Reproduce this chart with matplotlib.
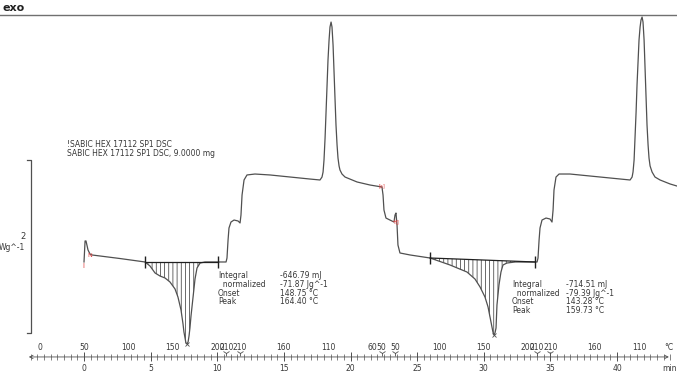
import numpy as np
import matplotlib.pyplot as plt

# DSC curve (time in min, heat flow in W/g, exo up, arbitrary offset)
t_curve = [0.00, 0.08, 0.15, 0.30, 0.45, 0.60, 1.20, 2.70, 4.58,
           4.95, 5.33, 5.70, 6.08, 6.45, 6.83, 7.05, 7.28, 7.43, 7.50, 7.58, 7.65, 7.73,
           7.81, 7.88, 7.95, 8.03, 8.18, 8.33, 8.48, 8.71, 9.08, 10.66,
           10.73, 10.81, 10.88, 11.03, 11.26, 11.56, 11.71,
           11.78, 11.86, 12.01, 12.23, 12.83, 13.96, 15.46, 16.96, 17.71,
           17.86, 17.94, 18.01, 18.09, 18.16, 18.24, 18.31, 18.39, 18.46, 18.54,
           18.61, 18.69, 18.76, 18.84, 18.91, 18.99, 19.06, 19.14, 19.21, 19.36,
           19.59, 20.49, 21.46, 22.36,
           22.44, 22.51, 22.66, 22.96, 23.26, 23.34, 23.41, 23.49, 23.56, 23.71,
           24.47, 25.97, 27.47, 28.74, 29.34, 29.72, 30.09, 30.32, 30.54, 30.69, 30.77,
           30.84, 30.92, 30.99, 31.14, 31.29, 31.44, 31.74, 32.35, 34.00,
           34.07, 34.15, 34.22, 34.37, 34.67, 34.97, 35.12,
           35.20, 35.27, 35.42, 35.65, 36.47, 38.72, 40.98,
           41.13, 41.20, 41.28, 41.35, 41.43, 41.50, 41.58, 41.65, 41.73, 41.80,
           41.88, 41.95, 42.03, 42.10, 42.18, 42.25, 42.33, 42.40, 42.48, 42.63,
           42.85, 43.23, 43.98, 44.50]
hf_curve = [0.821, 1.064, 1.064, 0.960, 0.913, 0.902, 0.890, 0.861, 0.821,
            0.775, 0.694, 0.659, 0.636, 0.590, 0.509, 0.416, 0.266, 0.104, 0.012, -0.058,
            -0.116, -0.127,
            -0.104, -0.035, 0.058, 0.197, 0.416, 0.624, 0.751, 0.809, 0.821, 0.821,
            0.867, 1.075, 1.214, 1.283, 1.306, 1.295, 1.272,
            1.364, 1.595, 1.769, 1.827, 1.838, 1.827, 1.803, 1.780, 1.769,
            1.803, 1.861, 2.000, 2.254, 2.555, 2.867, 3.156, 3.387, 3.538, 3.595,
            3.538, 3.329, 3.017, 2.694, 2.405, 2.173, 2.023, 1.931, 1.884, 1.838,
            1.803, 1.746, 1.711, 1.688,
            1.595, 1.422, 1.329, 1.306, 1.283, 1.364, 1.387, 1.249, 1.017, 0.925,
            0.902, 0.867, 0.786, 0.705, 0.624, 0.532, 0.416, 0.301, 0.127, 0.010, -0.023,
            0.000, 0.058, 0.324, 0.555, 0.705, 0.786, 0.809, 0.821, 0.821,
            0.867, 1.075, 1.214, 1.306, 1.329, 1.318, 1.283,
            1.422, 1.653, 1.803, 1.838, 1.838, 1.803, 1.769,
            1.803, 1.861, 2.000, 2.254, 2.555, 2.867, 3.156, 3.387, 3.538, 3.619,
            3.653, 3.595, 3.387, 3.064, 2.717, 2.405, 2.173, 2.023, 1.931, 1.861,
            1.803, 1.769, 1.723, 1.699]

# integration limits (min) and baseline values (W/g)
int_t = [(4.58, 10.06), (25.97, 33.85)]
int_hf = [(0.821, 0.821), (0.867, 0.821)]
peak_t = [7.73, 30.77]
peak_hf = [-0.127, -0.023]

results = [["-646.79 mJ", "-71.87 Jg^-1", "148.75 °C", "164.40 °C"],
           ["-714.51 mJ", "-79.39 Jg^-1", "143.28 °C", "159.73 °C"]]
res_names = ["Integral", "  normalized", "Onset", "Peak"]

# temperature program labels along the time axis
temp_t = [-3.33, 0, 3.33, 6.67, 10, 10.67, 11.67, 15, 18.33, 21.67, 22.33,
          23.33, 26.67, 30, 33.33, 34, 35, 38.33, 41.67]
temp_lbl = ['0', '50', '100', '150', '200', '210', '210', '160', '110', '60',
            '50', '50', '100', '150', '200', '210', '210', '160', '110']
seg_t = [10.67, 11.67, 22.33, 23.33, 34, 35]
time_ticks = [0, 5, 10, 15, 20, 25, 30, 35, 40]

fig = plt.figure(figsize=(6.77, 3.72), dpi=100)
ax = fig.add_axes([0, 0, 1, 1])
ax.axis('off')
ax.set_xlim(-6.304, 44.50)
ax.set_ylim(-0.451, 3.850)

line_c = '#505050'
txt_c = '#383838'
plt.rcParams['hatch.linewidth'] = 0.5
plt.rcParams['hatch.color'] = '#303030'

t = np.array(t_curve)
hf = np.array(hf_curve)
ax.plot(t, hf, color=line_c, lw=0.9)

# hatched areas and limit markers
for (a, b), (ya, yb) in zip(int_t, int_hf):
    m = (t > a) & (t < b)
    tt = np.concatenate([[a], t[m], [b]])
    cc = np.concatenate([[np.interp(a, t, hf)], hf[m], [np.interp(b, t, hf)]])
    base = np.interp(tt, [a, b], [ya, yb])
    ax.fill_between(tt, cc, base, facecolor='none', edgecolor='#303030',
                    hatch='||||', lw=0)
    ax.plot([a, b], [ya, yb], color='#202020', lw=0.9)
    ax.plot([a, b], [ya, yb], ls='none', marker='|', ms=8, mew=1.0, color='#202020')
ax.plot(peak_t, peak_hf, ls='none', marker='x', ms=3, mew=0.6, color=line_c)

# red event markers
ax.text(-0.08, 0.78, 'I', color='#e04040', fontsize=5, ha='center', va='center')
ax.text(0.45, 0.90, 'N', color='#e04040', fontsize=4.5, ha='center', va='center')
ax.text(22.36, 1.70, '[a]', color='#e04040', fontsize=3.5, ha='center', va='center')
ax.text(23.26, 1.28, '+', color='#e04040', fontsize=5, ha='center', va='center')
ax.text(23.56, 1.28, '[]', color='#e04040', fontsize=3.5, ha='center', va='center')

# result tables
for i, (x0, x1, y0) in enumerate([(10.06, 14.70, 0.66), (32.12, 36.17, 0.56)]):
    for j in range(4):
        ax.text(x0, y0 - j * 0.1, res_names[j], fontsize=5.5, color=txt_c, va='center')
        ax.text(x1, y0 - j * 0.1, results[i][j], fontsize=5.5, color=txt_c, va='center')

ax.text(-1.28, 2.18, '!SABIC HEX 17112 SP1 DSC', fontsize=5.5, color=txt_c, va='center')
ax.text(-1.28, 2.07, 'SABIC HEX 17112 SP1 DSC, 9.0000 mg', fontsize=5.5, color=txt_c,
        va='center')

# scale bar
ax.plot([-4.28, -3.98, -3.98, -4.28], [2, 2, 0, 0], color=line_c, lw=0.9)
ax.text(-4.55, 1.11, '2', fontsize=6, color=txt_c, ha='center', va='center')
ax.text(-4.40, 0.99, 'Wg^-1', fontsize=5.5, color=txt_c, ha='right', va='center')

# header
ax.plot([-6.304, 44.50], [3.676, 3.676], color='#707070', lw=1.0)
ax.text(-6.15, 3.76, 'exo', fontsize=8, fontweight='bold', color='#202020', va='center')

# time / temperature axis
y_ax = -0.277
ax.annotate('', xy=(44.10, y_ax), xytext=(-4.35, y_ax),
            arrowprops=dict(arrowstyle='<->', lw=0.6, color=line_c,
                            mutation_scale=6))
minor = np.arange(-4, 44.1, 0.5)
ax.vlines(minor, y_ax - 0.03, y_ax + 0.03, color=line_c, lw=0.5)
ax.vlines(time_ticks, y_ax - 0.05, y_ax + 0.06, color=line_c, lw=0.7)
for v in time_ticks:
    ax.text(v, -0.405, str(v), fontsize=5.5, color=txt_c, ha='center', va='center')
for v, s in zip(temp_t, temp_lbl):
    ax.text(v, -0.173, s, fontsize=5.5, color=txt_c, ha='center', va='center')
ax.plot(seg_t, [y_ax + 0.045] * len(seg_t), ls='none', marker='1', ms=5, mew=0.6,
        color=line_c)
ax.text(43.85, -0.173, '°C', fontsize=5.5, color=txt_c, ha='center', va='center')
ax.text(43.95, -0.405, 'min', fontsize=5.5, color=txt_c, ha='center', va='center')

fig.savefig('out.png', dpi=100)
